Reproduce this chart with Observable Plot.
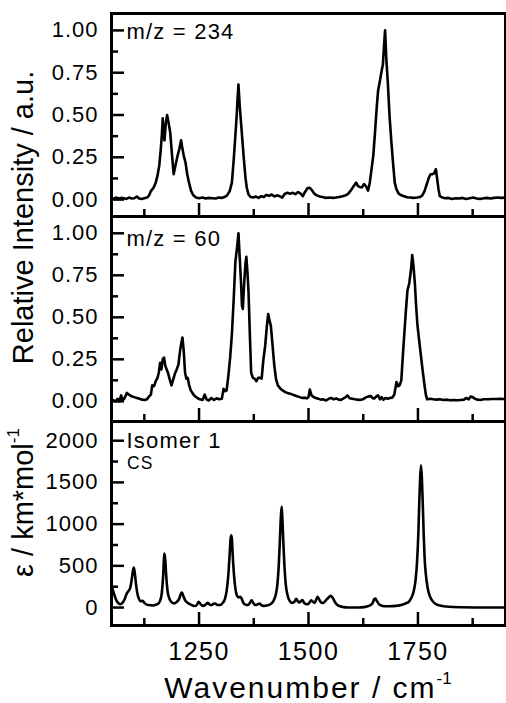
<!DOCTYPE html>
<html><head><meta charset="utf-8">
<script src="https://cdn.jsdelivr.net/npm/d3@7"></script>
<script src="https://cdn.jsdelivr.net/npm/@observablehq/plot@0.6"></script>
<style>
body{margin:0;background:#fff;font-family:"Liberation Sans",Arial,sans-serif;color:#000;}
#chart{position:relative;width:506px;height:703px;overflow:hidden;background:#fff;}
.panel{position:absolute;left:0;}
.panel svg{overflow:visible;background:none;}
g[aria-label="y-axis tick label"] text{letter-spacing:1px;}
g[aria-label="x-axis tick label"] text{letter-spacing:1.5px;}
g[aria-label="text"] text{letter-spacing:1.2px;}
.ytitle{position:absolute;white-space:nowrap;text-align:center;font-size:29px;line-height:29px;height:29px;transform:rotate(-90deg);}
.xtitle{position:absolute;white-space:nowrap;text-align:center;font-size:30px;line-height:30px;height:30px;letter-spacing:2px;}
sup{font-size:17px;position:relative;top:-14px;vertical-align:baseline;line-height:0;letter-spacing:0;}
</style>
</head><body>
<div id="chart"></div>
<script>
// ---------- data ----------
const xMajorTicks = [1250, 1500, 1750];
const xMinorTicks = [1125, 1375, 1625, 1875];
const relMajorTicks = [0, 0.25, 0.5, 0.75, 1];
const relMinorTicks = [0.125, 0.375, 0.625, 0.875];
const epsMajorTicks = [0, 500, 1000, 1500, 2000];
const epsMinorTicks = [250, 750, 1250, 1750];
const panelLabels = ["m/z = 234", "m/z = 60", "Isomer 1"];
const isomerSubLabel = "CS";
const yTitleTop = "Relative Intensity / a.u.";
const yTitleBottom = "ε / km*mol";
const xTitle = "Wavenumber / cm";
const unitExponent = "-1";

const wavenumber234 = [1050,1055,1060,1066,1072,1078,1084,1090,1096,1102,1108,1113,1119,1125,1131,1136,1140,1146,1151,1155,1159,1162,1165,1167,1169,1171,1174,1177,1180,1184,1188,1192,1196,1201,1205,1209,1212,1215,1219,1223,1227,1232,1237,1243,1250,1258,1265,1272,1280,1288,1295,1302,1308,1314,1320,1325,1329,1333,1336,1338,1340,1343,1346,1349,1352,1356,1359,1363,1368,1374,1380,1386,1392,1398,1404,1410,1416,1422,1428,1434,1440,1446,1452,1458,1464,1470,1476,1482,1487,1492,1498,1503,1508,1513,1519,1526,1532,1540,1548,1556,1563,1570,1578,1585,1591,1597,1602,1606,1609,1613,1617,1622,1627,1631,1636,1640,1644,1648,1652,1656,1659,1663,1667,1670,1673,1675,1678,1681,1685,1689,1693,1697,1701,1706,1712,1718,1725,1732,1740,1748,1755,1760,1765,1770,1775,1779,1783,1787,1791,1794,1797,1800,1806,1812,1820,1828,1836,1844,1852,1860,1868,1876,1884,1892,1900,1908,1916,1924,1932,1940,1950];
const intensity234 = [0.010,0.004,0.012,0.006,0.010,0.008,0.004,0.012,0.006,0.008,0.018,0.006,0.004,0.008,0.012,0.025,0.05,0.07,0.10,0.14,0.20,0.28,0.38,0.48,0.40,0.35,0.45,0.50,0.46,0.40,0.27,0.15,0.20,0.26,0.30,0.35,0.30,0.26,0.22,0.15,0.10,0.05,0.025,0.012,0.008,0.012,0.006,0.010,0.008,0.006,0.012,0.010,0.015,0.025,0.05,0.10,0.23,0.38,0.50,0.60,0.68,0.55,0.45,0.35,0.25,0.13,0.07,0.03,0.015,0.012,0.018,0.010,0.020,0.015,0.028,0.022,0.030,0.018,0.025,0.020,0.012,0.035,0.040,0.035,0.040,0.032,0.045,0.035,0.020,0.045,0.068,0.070,0.055,0.035,0.025,0.018,0.015,0.010,0.012,0.010,0.012,0.015,0.020,0.025,0.035,0.055,0.075,0.090,0.100,0.080,0.075,0.072,0.092,0.080,0.053,0.10,0.18,0.26,0.40,0.55,0.645,0.70,0.76,0.80,0.93,1.00,0.82,0.70,0.50,0.35,0.22,0.10,0.06,0.035,0.025,0.020,0.014,0.012,0.010,0.012,0.015,0.025,0.05,0.09,0.13,0.15,0.15,0.155,0.18,0.12,0.06,0.02,0.012,0.008,0.010,0.004,0.008,0.006,0.010,0.004,0.008,0.012,0.006,0.004,0.008,0.010,0.006,0.010,0.012,0.010,0.012];

const wavenumber60 = [1050,1055,1060,1064,1068,1072,1076,1080,1085,1090,1096,1102,1108,1114,1120,1126,1131,1136,1140,1143,1147,1151,1155,1158,1161,1164,1167,1170,1173,1176,1179,1183,1187,1191,1195,1199,1203,1206,1209,1212,1215,1218,1221,1224,1227,1231,1236,1241,1246,1252,1258,1263,1267,1272,1278,1284,1290,1296,1302,1306,1310,1313,1317,1321,1325,1329,1333,1337,1340,1343,1346,1348,1350,1353,1356,1358,1361,1363,1366,1369,1373,1377,1381,1385,1389,1393,1397,1401,1405,1408,1411,1414,1418,1422,1426,1430,1436,1441,1447,1452,1458,1464,1469,1474,1480,1486,1491,1496,1500,1503,1507,1512,1517,1522,1528,1534,1540,1546,1552,1558,1563,1569,1574,1580,1585,1589,1594,1600,1606,1612,1618,1624,1630,1636,1642,1646,1650,1655,1659,1663,1667,1671,1676,1681,1686,1691,1696,1701,1705,1708,1712,1715,1718,1722,1726,1730,1734,1737,1740,1743,1746,1749,1752,1756,1760,1764,1768,1771,1778,1785,1792,1800,1808,1816,1824,1832,1840,1848,1855,1860,1866,1870,1875,1880,1886,1892,1900,1910,1920,1930,1940,1950];
const intensity60 = [0.010,0.006,0.000,0.015,0.000,0.035,0.005,0.020,0.050,0.040,0.030,0.025,0.020,0.015,0.010,0.008,0.012,0.030,0.040,0.095,0.090,0.120,0.140,0.170,0.230,0.190,0.250,0.260,0.210,0.190,0.170,0.130,0.095,0.130,0.165,0.190,0.220,0.290,0.340,0.380,0.300,0.170,0.135,0.140,0.100,0.065,0.045,0.030,0.020,0.012,0.008,0.040,0.012,0.005,0.020,0.008,0.018,0.012,0.015,0.075,0.060,0.065,0.155,0.260,0.400,0.600,0.830,0.920,1.000,0.850,0.700,0.570,0.550,0.700,0.820,0.860,0.750,0.650,0.400,0.170,0.140,0.135,0.120,0.140,0.140,0.135,0.250,0.330,0.450,0.520,0.480,0.450,0.330,0.210,0.130,0.095,0.075,0.065,0.055,0.050,0.045,0.040,0.035,0.030,0.025,0.020,0.022,0.018,0.025,0.070,0.035,0.025,0.020,0.016,0.010,0.012,0.005,0.015,0.020,0.012,0.018,0.010,0.008,0.018,0.025,0.035,0.018,0.015,0.012,0.010,0.008,0.012,0.022,0.028,0.032,0.020,0.016,0.030,0.035,0.012,0.025,0.010,0.020,0.016,0.020,0.022,0.040,0.115,0.090,0.095,0.125,0.250,0.370,0.520,0.660,0.700,0.780,0.870,0.800,0.700,0.560,0.450,0.380,0.290,0.200,0.115,0.040,0.012,0.015,0.012,0.010,0.012,0.008,0.010,0.006,0.008,0.006,0.008,0.010,0.020,0.012,0.028,0.025,0.015,0.010,0.008,0.012,0.012,0.014,0.014,0.015,0.012];

const wavenumberCalc = [1050,1055,1060,1065,1070,1075,1080,1085,1089,1093,1096,1099,1101,1103,1106,1109,1113,1117,1121,1126,1134,1145,1155,1161,1165,1168,1170,1171,1173,1175,1178,1182,1187,1193,1200,1205,1209,1211,1214,1218,1223,1229,1235,1241,1246,1249,1253,1259,1265,1270,1274,1278,1283,1287,1292,1298,1304,1309,1313,1317,1320,1322,1323.5,1325,1327,1330,1333,1337,1341,1344,1347,1351,1356,1361,1366,1370,1374,1379,1384,1388,1392,1398,1405,1413,1420,1425,1429,1432,1435,1437,1438.7,1440,1442,1445,1448,1452,1457,1463,1468,1472,1475,1479,1483,1486,1490,1495,1500,1506,1510,1514,1518,1521,1525,1529,1534,1540,1546,1551,1556,1560,1565,1572,1580,1590,1600,1615,1627,1635,1642,1647,1650,1653,1656,1660,1666,1673,1685,1700,1712,1722,1730,1737,1741,1745,1748,1751,1753,1755,1757,1759,1761,1763,1765,1768,1772,1777,1783,1790,1800,1815,1830,1850,1880,1950];
const epsilonCalc = [260,180,100,55,40,55,100,170,200,240,330,440,480,420,280,170,100,75,80,50,30,25,40,80,180,380,600,647,560,380,200,110,65,50,70,110,170,180,140,90,60,40,25,18,40,70,45,20,35,56,35,30,45,48,30,30,55,100,200,400,650,820,867,820,620,380,230,140,120,130,110,60,35,30,55,88,55,30,40,48,30,20,25,40,80,150,280,500,850,1100,1207,1100,850,500,280,150,80,55,70,105,80,60,80,90,55,40,45,88,70,56,100,128,90,60,55,88,120,140,110,70,35,15,5,0,0,0,5,15,30,60,100,108,80,45,25,16,15,20,30,50,75,140,210,350,550,900,1250,1550,1705,1550,1250,900,620,400,240,140,80,45,25,12,6,3,1,0];

// ---------- build ----------
const toRows = (xs, ys) => xs.map((x, i) => ({wn: x, v: ys[i]}));
const spectra = [
  {rows: toRows(wavenumber234, intensity234), label: panelLabels[0], sub: null, dy: 9.5, domain: [-0.1, 1.1], major: relMajorTicks, minor: relMinorTicks, fmt: d3.format(".2f"), top: 0, height: 216, mt: 13, mb: 0, showX: false, curve: "linear"},
  {rows: toRows(wavenumber60, intensity60), label: panelLabels[1], sub: null, dy: 14, domain: [-0.12, 1.1], major: relMajorTicks, minor: relMinorTicks, fmt: d3.format(".2f"), top: 216, height: 205, mt: 0, mb: 0, showX: false, curve: "linear"},
  {rows: toRows(wavenumberCalc, epsilonCalc), label: panelLabels[2], sub: isomerSubLabel, dy: 11, domain: [-215, 2230], major: epsMajorTicks, minor: epsMinorTicks, fmt: d3.format("d"), top: 421, height: 282, mt: 0, mb: 78, showX: true, curve: "monotone-x"}
];

const chart = document.getElementById("chart");
const blank = () => "";
for (const p of spectra) {
  const marks = [
    Plot.line(p.rows, {x: "wn", y: "v", stroke: "black", strokeWidth: 2.6, strokeLinejoin: "round", curve: p.curve, clip: true}),
    Plot.frame({stroke: "black", strokeWidth: 3}),
    Plot.axisY(p.major, {tickSize: -13, strokeWidth: 2.5, tickFormat: blank, label: null}),
    Plot.axisY(p.minor, {tickSize: -7, strokeWidth: 2.5, tickFormat: blank, label: null}),
    Plot.axisY(p.major, {tickSize: 0, tickPadding: 13, tickFormat: p.fmt, fontSize: 22, label: null}),
    Plot.axisX(xMajorTicks, {tickSize: -13, strokeWidth: 2.5, tickFormat: blank, label: null}),
    Plot.axisX(xMinorTicks, {tickSize: -7, strokeWidth: 2.5, tickFormat: blank, label: null}),
    Plot.text([p.label], {text: d => d, frameAnchor: "top-left", lineAnchor: "top", dx: 15, dy: p.dy, fontSize: 22, fill: "black"})
  ];
  if (p.sub) marks.push(Plot.text([p.sub], {text: d => d, frameAnchor: "top-left", lineAnchor: "top", dx: 15.5, dy: 35, fontSize: 17.5, fill: "black"}));
  if (p.showX) marks.push(Plot.axisX(xMajorTicks, {tickSize: 0, tickPadding: 16.5, tickFormat: d3.format("d"), fontSize: 25, label: null}));
  const svg = Plot.plot({
    width: 506, height: p.height,
    marginLeft: 111, marginRight: 1, marginTop: p.mt, marginBottom: p.mb,
    x: {domain: [1050, 1950], label: null},
    y: {domain: p.domain, label: null},
    style: {fontFamily: "'Liberation Sans', Arial, sans-serif", color: "black", background: "none", overflow: "visible"},
    marks
  });
  const wrap = document.createElement("div");
  wrap.className = "panel";
  wrap.style.top = p.top + "px";
  wrap.appendChild(svg);
  chart.appendChild(wrap);
}

// axis titles
function addYTitle(text, cx, cy, w) {
  const d = document.createElement("div");
  d.className = "ytitle";
  d.style.width = w + "px";
  d.style.left = (cx - w / 2) + "px";
  d.style.top = (cy - 14.5) + "px";
  d.innerHTML = text;
  chart.appendChild(d);
}
addYTitle(yTitleTop, 23, 217, 340);
addYTitle(yTitleBottom + "<sup>" + unitExponent + "</sup>", 23, 502, 200);
const xt = document.createElement("div");
xt.className = "xtitle";
xt.style.width = "400px";
xt.style.left = (308 - 200) + "px";
xt.style.top = "672.6px";
xt.innerHTML = xTitle + "<sup>" + unitExponent + "</sup>";
chart.appendChild(xt);
</script>
</body></html>
